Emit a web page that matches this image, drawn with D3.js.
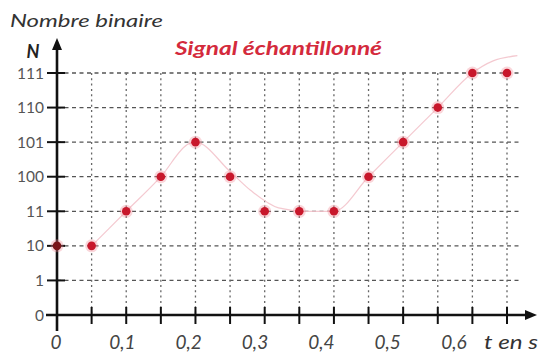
<!DOCTYPE html>
<html>
<head>
<meta charset="utf-8">
<script src="https://cdn.jsdelivr.net/npm/d3@7"></script>
<style>
  html, body { margin: 0; padding: 0; background: #fff; }
  svg { display: block; }
</style>
</head>
<body>
<svg id="chart" width="539" height="358"></svg>
<script>
// Sampling instants (s) and the binary code read at each one
const sampleTimes = [0, 0.05, 0.1, 0.15, 0.2, 0.25, 0.3, 0.35, 0.4, 0.45, 0.5, 0.55, 0.6, 0.65];
const sampleCodes = [2, 2, 3, 4, 5, 4, 3, 3, 3, 4, 5, 6, 7, 7];

// Underlying analog signal (level units) traced behind the samples
const signalTimes  = [0.05, 0.1, 0.15, 0.19, 0.2, 0.25, 0.28, 0.32, 0.36, 0.4, 0.45, 0.5, 0.55, 0.6, 0.63, 0.665];
const signalLevels = [2, 3, 4, 4.95, 5, 4.15, 3.6, 3.1, 3.0, 3.0, 4, 5, 6, 7, 7.35, 7.5];

// Axis ticks
const yLevels = [0, 1, 2, 3, 4, 5, 6, 7];
const yTickLabels = ["0", "1", "10", "11", "100", "101", "110", "111"];
const xGridTimes = [0, 0.05, 0.1, 0.15, 0.2, 0.25, 0.3, 0.35, 0.4, 0.45, 0.5, 0.55, 0.6, 0.65];
const xLabelTimes = [0, 0.1, 0.2, 0.3, 0.4, 0.5, 0.6];
const xTickLabels = ["0", "0,1", "0,2", "0,3", "0,4", "0,5", "0,6"];

const svg = d3.select("#chart");

const x0 = 57, y0 = 315;
const x = d3.scaleLinear().domain([0, 0.65]).range([x0, 507]);
const y = d3.scaleLinear().domain([0, 7]).range([y0, 73]);
// tick labels sit slightly left of their grid lines
const xLab = d3.scaleLinear().domain([0, 0.6]).range([56, 454]);

const font = "Lato, 'Open Sans', sans-serif";

// Grid: horizontal dashed lines
svg.append("g").selectAll("line")
  .data(yLevels.slice(1))
  .join("line")
  .attr("x1", x0).attr("x2", 521)
  .attr("y1", d => y(d)).attr("y2", d => y(d))
  .attr("stroke", "#555").attr("stroke-width", 1.3)
  .attr("stroke-dasharray", "4,3.5");

// Grid: vertical dotted lines
svg.append("g").selectAll("line")
  .data(xGridTimes.slice(1))
  .join("line")
  .attr("x1", d => x(d)).attr("x2", d => x(d))
  .attr("y1", y(7)).attr("y2", y0)
  .attr("stroke", "#666").attr("stroke-width", 1.3)
  .attr("stroke-dasharray", "2,3.3");

// Analog signal
const signalPts = signalTimes.map((t, i) => [x(t), y(signalLevels[i])]);
svg.append("path")
  .attr("d", d3.line().curve(d3.curveMonotoneX)(signalPts))
  .attr("fill", "none")
  .attr("stroke", "#f3c3cb").attr("stroke-width", 1.2)
  .attr("opacity", 0.9);

// Axes
const axis = svg.append("g").attr("stroke", "#111").attr("fill", "none");
axis.append("line").attr("x1", x0).attr("x2", x0).attr("y1", 331).attr("y2", 46)
  .attr("stroke-width", 2.6);
axis.append("path").attr("d", `M${x0},38 L${x0 - 5},50 L${x0 + 5},50 Z`).attr("fill", "#111").attr("stroke", "none");
axis.append("line").attr("x1", 46).attr("x2", 528).attr("y1", y0).attr("y2", y0)
  .attr("stroke-width", 2.6);
axis.append("path").attr("d", `M537,${y0} L525,${y0 - 5} L525,${y0 + 5} Z`).attr("fill", "#111").attr("stroke", "none");

// Axis tick marks
axis.append("g").selectAll("line")
  .data(xGridTimes.slice(1))
  .join("line")
  .attr("x1", d => x(d)).attr("x2", d => x(d))
  .attr("y1", y0 - 8).attr("y2", y0 + 9)
  .attr("stroke-width", 2);
axis.append("g").selectAll("line")
  .data(yLevels.slice(1))
  .join("line")
  .attr("x1", x0 - 10).attr("x2", x0 + 8)
  .attr("y1", d => y(d)).attr("y2", d => y(d))
  .attr("stroke-width", 2);

// Y tick labels
svg.append("g").selectAll("text")
  .data(yLevels)
  .join("text")
  .attr("x", 44).attr("y", d => y(d) + 5.5)
  .attr("text-anchor", "end")
  .attr("font-family", font).attr("font-size", 15.5)
  .attr("fill", "#555")
  .text((d, i) => yTickLabels[i]);

// X tick labels
svg.append("g").selectAll("text")
  .data(xLabelTimes)
  .join("text")
  .attr("x", d => xLab(d)).attr("y", 349)
  .attr("text-anchor", "middle")
  .attr("font-family", font).attr("font-size", 19).attr("font-style", "italic")
  .attr("fill", "#444")
  .text((d, i) => xTickLabels[i]);

svg.append("text")
  .attr("x", 484).attr("y", 349)
  .attr("textLength", 54).attr("lengthAdjust", "spacingAndGlyphs")
  .attr("font-family", font).attr("font-size", 19).attr("font-style", "italic")
  .attr("fill", "#333").text("t en s");

// Axis titles
svg.append("text")
  .attr("x", 10).attr("y", 27)
  .attr("textLength", 153).attr("lengthAdjust", "spacingAndGlyphs")
  .attr("font-family", font).attr("font-size", 18).attr("font-style", "italic")
  .attr("fill", "#333").text("Nombre binaire");
svg.append("text")
  .attr("x", 33).attr("y", 58).attr("text-anchor", "middle")
  .attr("font-family", font).attr("font-size", 18).attr("font-style", "italic").attr("font-weight", "bold")
  .attr("fill", "#222").text("N");

// Chart title
svg.append("text")
  .attr("x", 175).attr("y", 55)
  .attr("textLength", 207).attr("lengthAdjust", "spacingAndGlyphs")
  .attr("font-family", font).attr("font-size", 19).attr("font-style", "italic").attr("font-weight", "bold")
  .attr("fill", "#d42a3c").text("Signal échantillonné");

// Samples
const dots = svg.append("g");
dots.selectAll("circle.halo")
  .data(sampleTimes)
  .join("circle").attr("class", "halo")
  .attr("cx", d => x(d)).attr("cy", (d, i) => y(sampleCodes[i]))
  .attr("r", 6.5).attr("fill", "#f08a96").attr("opacity", 0.35);
dots.selectAll("circle.dot")
  .data(sampleTimes)
  .join("circle").attr("class", "dot")
  .attr("cx", d => x(d)).attr("cy", (d, i) => y(sampleCodes[i]))
  .attr("r", 4.3)
  .attr("fill", d => d === 0 ? "#7a1418" : "#c8172b");
</script>
</body>
</html>
